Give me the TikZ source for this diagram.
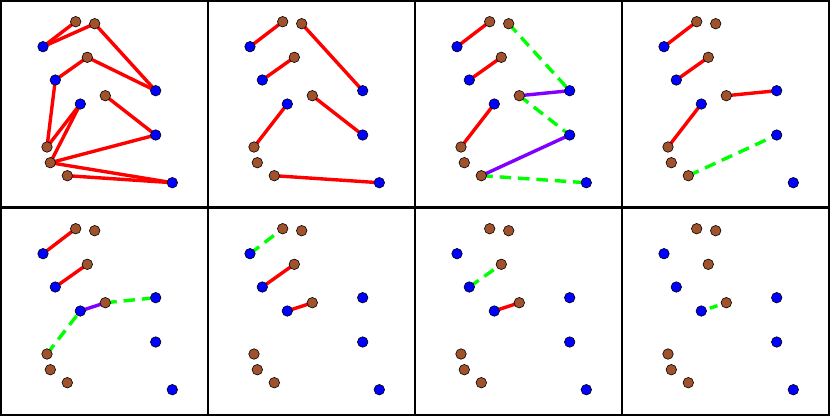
\documentclass[tikz,border=0pt]{standalone}
\definecolor{brn}{RGB}{160,82,45}
\definecolor{vio}{RGB}{127,0,255}
\definecolor{lime}{RGB}{0,255,0}
\pgfdeclarelayer{bgl}
\pgfdeclarelayer{edges}
\pgfsetlayers{bgl,edges,main}
\tikzset{
  bdot/.style={circle,draw=black,line width=0.6pt,fill=brn,minimum size=10.5pt,inner sep=0pt},
  udot/.style={circle,draw=black,line width=0.6pt,fill=blue,minimum size=10.5pt,inner sep=0pt},
  redge/.style={draw=red,line width=3.4pt},
  gedge/.style={draw=lime,line width=3.4pt,dash pattern=on 11.5pt off 6.9pt},
  pedge/.style={draw=vio,line width=3.4pt},
  framebox/.style={draw=black,line width=2.2pt}
}
\newcommand\mkpanel[3]{%
  \begin{scope}[shift={(#2,#3)}]
    \node[bdot] (#1A) at (75.7,21.7) {};
    \node[bdot] (#1B) at (94.7,23.7) {};
    \node[bdot] (#1C) at (87.3,57.3) {};
    \node[bdot] (#1D) at (105.3,95.7) {};
    \node[bdot] (#1E) at (47,147) {};
    \node[bdot] (#1F) at (50.3,162.7) {};
    \node[bdot] (#1G) at (67.3,175.7) {};
    \node[udot] (#1a) at (43,46.7) {};
    \node[udot] (#1b) at (55.3,80) {};
    \node[udot] (#1c) at (80.3,104) {};
    \node[udot] (#1d) at (155.7,90.7) {};
    \node[udot] (#1e) at (155.7,135) {};
    \node[udot] (#1f) at (172.3,182.7) {};
  \end{scope}}
\begin{document}
\begin{tikzpicture}[x=1pt,y=-1pt]
\useasboundingbox (0,0) rectangle (830,416);
\begin{pgfonlayer}{bgl}
\fill[white] (0,0) rectangle (830,416);
\end{pgfonlayer}
\mkpanel{p1}{0}{0}
\mkpanel{p2}{207}{0}
\mkpanel{p3}{414}{0}
\mkpanel{p4}{621}{0}
\mkpanel{p5}{0}{207}
\mkpanel{p6}{207}{207}
\mkpanel{p7}{414}{207}
\mkpanel{p8}{621}{207}
\begin{pgfonlayer}{edges}
% panel 1
\foreach \u/\v in {a/A,a/B,B/d,C/b,C/d,b/E,c/E,c/F,D/e,F/e,F/f,G/f}
  \draw[redge] (p1\u.center) -- (p1\v.center);
% panel 2
\foreach \u/\v in {a/A,B/d,b/C,c/E,D/e,G/f}
  \draw[redge] (p2\u.center) -- (p2\v.center);
% panel 3
\foreach \u/\v in {a/A,b/C,c/E}
  \draw[redge] (p3\u.center) -- (p3\v.center);
\draw[gedge] (p3B.center) -- (p3d.center);
\draw[gedge] (p3D.center) -- (p3e.center);
\draw[gedge] (p3G.center) -- (p3f.center);
\draw[pedge] (p3D.center) -- (p3d.center);
\draw[pedge] (p3G.center) -- (p3e.center);
% panel 4
\foreach \u/\v in {a/A,b/C,c/E,D/d}
  \draw[redge] (p4\u.center) -- (p4\v.center);
\draw[gedge] (p4G.center) -- (p4e.center);
% panel 5
\foreach \u/\v in {a/A,b/C}
  \draw[redge] (p5\u.center) -- (p5\v.center);
\draw[gedge] (p5E.center) -- (p5c.center);
\draw[gedge] (p5D.center) -- (p5d.center);
\draw[pedge] (p5c.center) -- (p5D.center);
% panel 6
\draw[gedge] (p6a.center) -- (p6A.center);
\draw[redge] (p6b.center) -- (p6C.center);
\draw[redge] (p6c.center) -- (p6D.center);
% panel 7
\draw[gedge] (p7b.center) -- (p7C.center);
\draw[redge] (p7c.center) -- (p7D.center);
% panel 8
\draw[gedge,dash pattern=on 8pt off 20pt,dash phase=19pt] (p8c.center) -- (p8D.center);
\end{pgfonlayer}
% frames
\draw[framebox] (1,1) rectangle (829,415);
\draw[framebox] (207.8,0) -- (207.8,416);
\draw[framebox] (415,0) -- (415,416);
\draw[framebox] (622.3,0) -- (622.3,416);
\draw[framebox] (0,207.5) -- (830,207.5);
\end{tikzpicture}
\end{document}
